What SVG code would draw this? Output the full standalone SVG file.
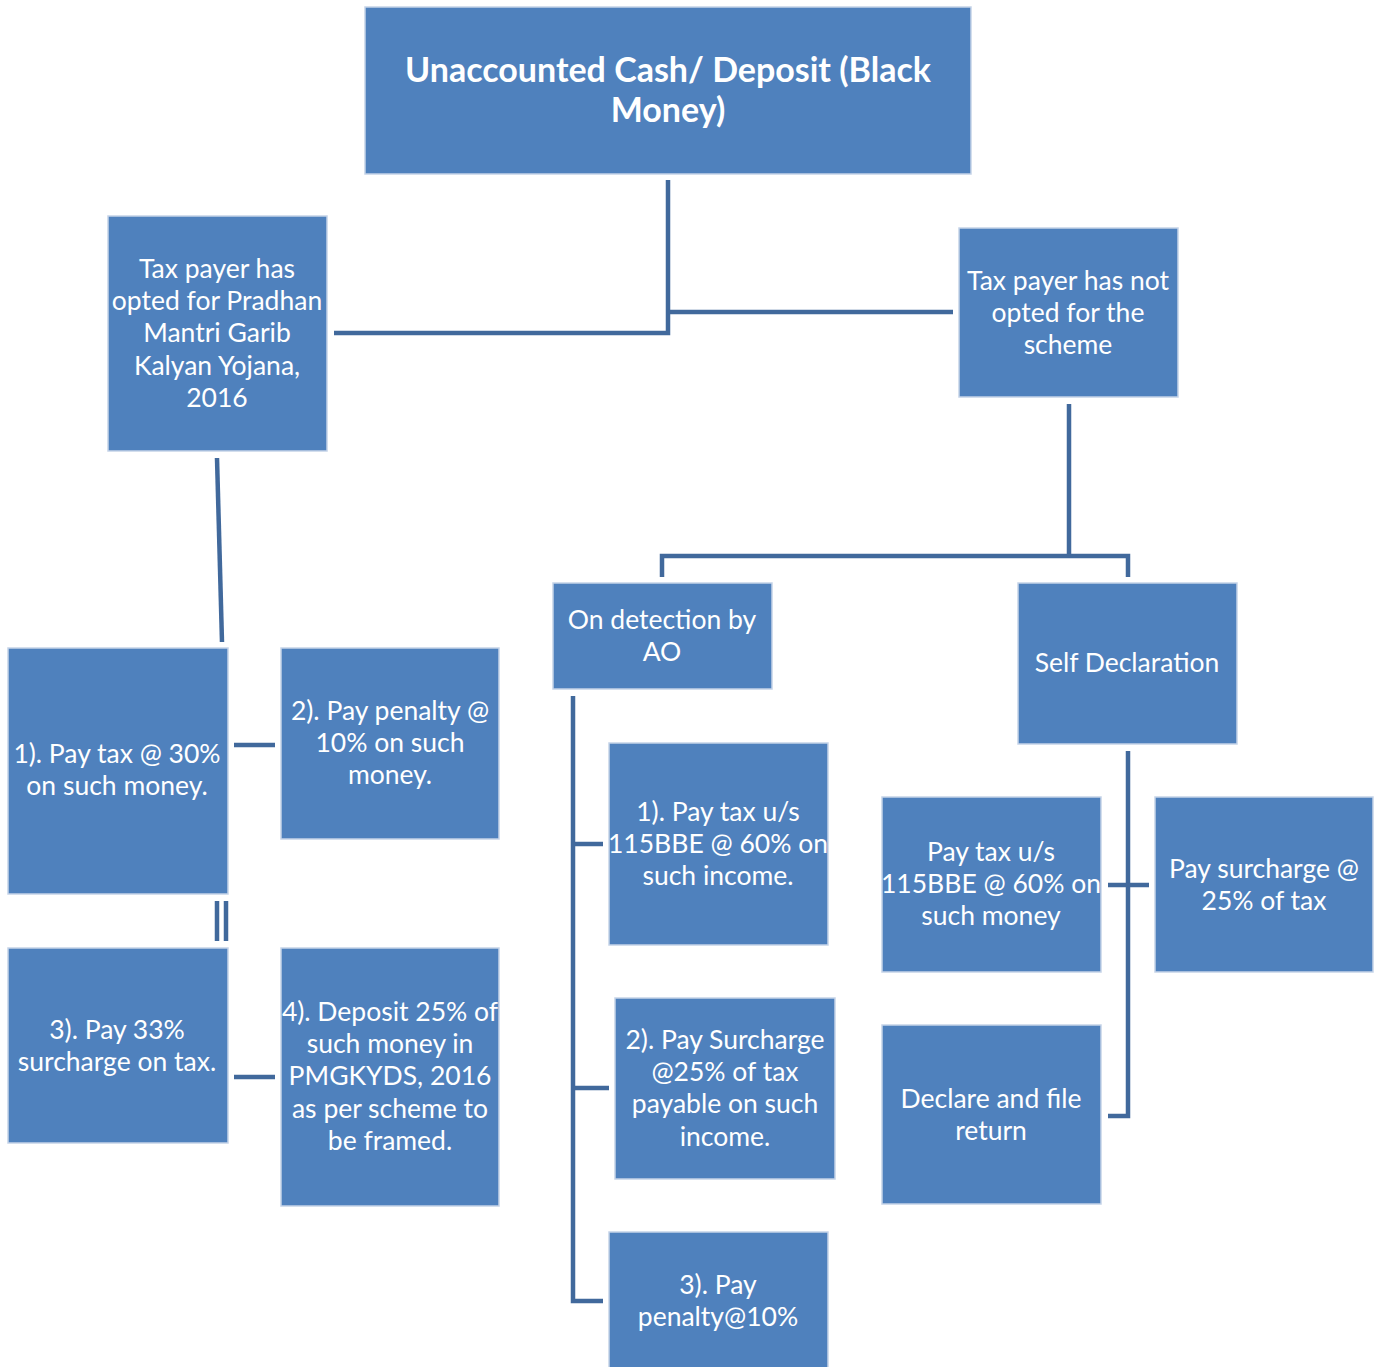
<svg xmlns="http://www.w3.org/2000/svg" width="1384" height="1367" viewBox="0 0 1384 1367">
<style>
.box{fill:#4F81BD;stroke:#C5D3E8;stroke-width:1.5}
.t{fill:#FFFFFF;font-family:Lato,"Open Sans","Noto Sans",sans-serif;font-size:26.5px;text-anchor:middle;dominant-baseline:central}
.tb{font-size:34px;font-weight:bold}
.c{fill:none;stroke:#41699C;stroke-width:4.5;stroke-linejoin:miter}
</style>
<rect width="1384" height="1367" fill="#FFFFFF"/>
<g id="connectors">
<path class="c" d="M668,180 V333 H334"/>
<path class="c" d="M668,312 H953"/>
<path class="c" d="M217,458 L222,642"/>
<path class="c" d="M1069,404 V556"/>
<path class="c" d="M662,577 V556 H1128 V577"/>
<path class="c" d="M234,745 H275"/>
<path class="c" d="M217,901 V941 M226,901 V941"/>
<path class="c" d="M234,1077 H275"/>
<path class="c" d="M573,696 V1301 H603"/>
<path class="c" d="M573,844 H603"/>
<path class="c" d="M573,1088 H609"/>
<path class="c" d="M1128,751 V1116 H1108"/>
<path class="c" d="M1108,885 H1149"/>
</g>
<g id="n-top"><rect class="box" x="365" y="7" width="606" height="167"/>
<text class="t tb" x="668" y="68">Unaccounted Cash/ Deposit (Black</text>
<text class="t tb" x="668" y="108">Money)</text></g>
<g id="n-opted"><rect class="box" x="108" y="216" width="219" height="235"/>
<text class="t" x="217" y="268">Tax payer has</text>
<text class="t" x="217" y="300">opted for Pradhan</text>
<text class="t" x="217" y="332">Mantri Garib</text>
<text class="t" x="217" y="365">Kalyan Yojana,</text>
<text class="t" x="217" y="397">2016</text></g>
<g id="n-notopted"><rect class="box" x="959" y="228" width="219" height="169"/>
<text class="t" x="1068" y="280">Tax payer has not</text>
<text class="t" x="1068" y="312">opted for the</text>
<text class="t" x="1068" y="344">scheme</text></g>
<g id="n-ao"><rect class="box" x="553" y="583" width="219" height="106"/>
<text class="t" x="662" y="619">On detection by</text>
<text class="t" x="662" y="651">AO</text></g>
<g id="n-self"><rect class="box" x="1018" y="583" width="219" height="161"/>
<text class="t" x="1127" y="662">Self Declaration</text></g>
<g id="n-l1"><rect class="box" x="8" y="648" width="220" height="246"/>
<text class="t" x="117" y="753">1). Pay tax @ 30%</text>
<text class="t" x="117" y="785">on such money.</text></g>
<g id="n-l2"><rect class="box" x="281" y="648" width="218" height="191"/>
<text class="t" x="390" y="710">2). Pay penalty @</text>
<text class="t" x="390" y="742">10% on such</text>
<text class="t" x="390" y="774">money.</text></g>
<g id="n-l3"><rect class="box" x="8" y="948" width="220" height="195"/>
<text class="t" x="117" y="1029">3). Pay 33%</text>
<text class="t" x="117" y="1061">surcharge on tax.</text></g>
<g id="n-l4"><rect class="box" x="281" y="948" width="218" height="258"/>
<text class="t" x="390" y="1011">4). Deposit 25% of</text>
<text class="t" x="390" y="1043">such money in</text>
<text class="t" x="390" y="1075">PMGKYDS, 2016</text>
<text class="t" x="390" y="1108">as per scheme to</text>
<text class="t" x="390" y="1140">be framed.</text></g>
<g id="n-a1"><rect class="box" x="609" y="743" width="219" height="202"/>
<text class="t" x="718" y="811">1). Pay tax u/s</text>
<text class="t" x="718" y="843">115BBE @ 60% on</text>
<text class="t" x="718" y="875">such income.</text></g>
<g id="n-a2"><rect class="box" x="615" y="998" width="220" height="181"/>
<text class="t" x="725" y="1039">2). Pay Surcharge</text>
<text class="t" x="725" y="1071">@25% of tax</text>
<text class="t" x="725" y="1103">payable on such</text>
<text class="t" x="725" y="1136">income.</text></g>
<g id="n-a3"><rect class="box" x="609" y="1232" width="219" height="140"/>
<text class="t" x="718" y="1284">3). Pay</text>
<text class="t" x="718" y="1316">penalty@10%</text></g>
<g id="n-s1"><rect class="box" x="882" y="797" width="219" height="175"/>
<text class="t" x="991" y="851">Pay tax u/s</text>
<text class="t" x="991" y="883">115BBE @ 60% on</text>
<text class="t" x="991" y="915">such money</text></g>
<g id="n-s2"><rect class="box" x="1155" y="797" width="218" height="175"/>
<text class="t" x="1264" y="868">Pay surcharge @</text>
<text class="t" x="1264" y="900">25% of tax</text></g>
<g id="n-s3"><rect class="box" x="882" y="1025" width="219" height="179"/>
<text class="t" x="991" y="1098">Declare and file</text>
<text class="t" x="991" y="1130">return</text></g>
</svg>
